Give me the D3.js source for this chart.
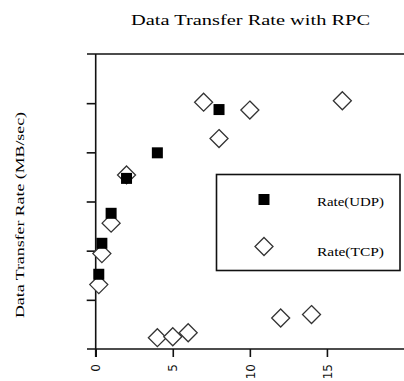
<!DOCTYPE html>
<html>
<head>
<meta charset="utf-8">
<script src="https://cdn.jsdelivr.net/npm/d3@7"></script>
<style>
  body { margin: 0; background: #fff; }
  svg { display: block; }
</style>
</head>
<body>
<svg id="chart" width="404" height="381"></svg>
<script>
// values
let udpX = [0.2, 0.4, 1, 2, 4, 8];
let udpY = [1.52, 2.15, 2.76, 3.47, 3.99, 4.87];
let tcpX = [0.2, 0.4, 1, 2, 4, 5, 6, 7, 8, 10, 12, 14, 16];
let tcpY = [1.31, 1.94, 2.56, 3.54, 0.23, 0.25, 0.33, 5.02, 4.28, 4.86, 0.63, 0.70, 5.05];
let xTicks = [0, 5, 10, 15];
let yTicks = [1, 2, 3, 4, 5];
let seriesNames = ["Rate(UDP)", "Rate(TCP)"];

let svg = d3.select("#chart");
let serif = "'Liberation Serif', 'DejaVu Serif', serif";

let x = d3.scaleLinear().domain([0, 20]).range([95.7, 404]);
let y = d3.scaleLinear().domain([0, 6]).range([349, 54]);

svg.append("text")
    .attr("x", 250.5).attr("y", 25)
    .attr("text-anchor", "middle")
    .attr("font-family", serif).attr("font-size", 14)
    .attr("textLength", 239).attr("lengthAdjust", "spacingAndGlyphs")
    .text("Data Transfer Rate with RPC");

svg.append("text")
    .attr("transform", "translate(24,215) rotate(-90)")
    .attr("text-anchor", "middle")
    .attr("font-family", serif).attr("font-size", 13)
    .attr("textLength", 206).attr("lengthAdjust", "spacingAndGlyphs")
    .text("Data Transfer Rate (MB/sec)");

// frame lines (top + bottom run out to the left like ticks)
let axisColor = "#111";
svg.append("line").attr("x1", 87).attr("x2", 404).attr("y1", y(6)).attr("y2", y(6))
    .attr("stroke", axisColor).attr("stroke-width", 1.6);

let xAxis = svg.append("g")
    .attr("transform", "translate(0," + y(0) + ")")
    .call(d3.axisBottom(x).tickValues(xTicks).tickSize(8).tickSizeOuter(0).tickFormat(d3.format("d")));
xAxis.select(".domain").remove();
xAxis.selectAll(".tick line").attr("stroke", axisColor).attr("stroke-width", 1.6);
xAxis.selectAll(".tick text")
    .attr("transform", "rotate(-90)")
    .attr("x", -15).attr("y", 0).attr("dy", "0.35em")
    .attr("text-anchor", "end")
    .attr("font-family", "'DejaVu Sans', sans-serif").attr("font-size", 12)
    .attr("fill", "#111");

svg.append("line").attr("x1", 87).attr("x2", 404).attr("y1", y(0)).attr("y2", y(0))
    .attr("stroke", axisColor).attr("stroke-width", 1.6);

let yAxis = svg.append("g")
    .attr("transform", "translate(" + x(0) + ",0)")
    .call(d3.axisLeft(y).tickValues(yTicks).tickSize(9).tickFormat(""));
yAxis.select(".domain").remove();
yAxis.selectAll(".tick line").attr("stroke", axisColor).attr("stroke-width", 1.6);
svg.append("line").attr("x1", x(0)).attr("x2", x(0)).attr("y1", y(6)).attr("y2", y(0) + 8)
    .attr("stroke", axisColor).attr("stroke-width", 1.6);

let udp = udpX.map((d, i) => ({x: d, y: udpY[i]}));
let tcp = tcpX.map((d, i) => ({x: d, y: tcpY[i]}));

let diamond = "M0,-9L9,0L0,9L-9,0Z";
let sq = 11;

svg.append("g").selectAll("path").data(tcp).enter().append("path")
    .attr("d", diamond)
    .attr("transform", d => "translate(" + x(d.x) + "," + y(d.y) + ")")
    .attr("fill", "#fff").attr("stroke", "#333").attr("stroke-width", 1.3);

svg.append("g").selectAll("rect").data(udp).enter().append("rect")
    .attr("x", d => x(d.x) - sq / 2).attr("y", d => y(d.y) - sq / 2)
    .attr("width", sq).attr("height", sq)
    .attr("fill", "#000");

// legend
let legend = svg.append("g");
legend.append("rect")
    .attr("x", 216.5).attr("y", 174.5).attr("width", 183.5).attr("height", 96)
    .attr("fill", "#fff").attr("stroke", axisColor).attr("stroke-width", 1.6);
legend.append("rect").attr("x", 264 - sq / 2).attr("y", 199.5 - sq / 2)
    .attr("width", sq).attr("height", sq).attr("fill", "#000");
legend.append("path").attr("d", diamond)
    .attr("transform", "translate(264,246.5)")
    .attr("fill", "#fff").attr("stroke", "#333").attr("stroke-width", 1.3);
legend.selectAll("text").data(seriesNames).enter().append("text")
    .attr("x", 317).attr("y", (d, i) => 201.5 + i * 50).attr("dy", "0.35em")
    .attr("font-family", serif).attr("font-size", 13)
    .attr("textLength", 67).attr("lengthAdjust", "spacingAndGlyphs")
    .text(d => d);
</script>
</body>
</html>
